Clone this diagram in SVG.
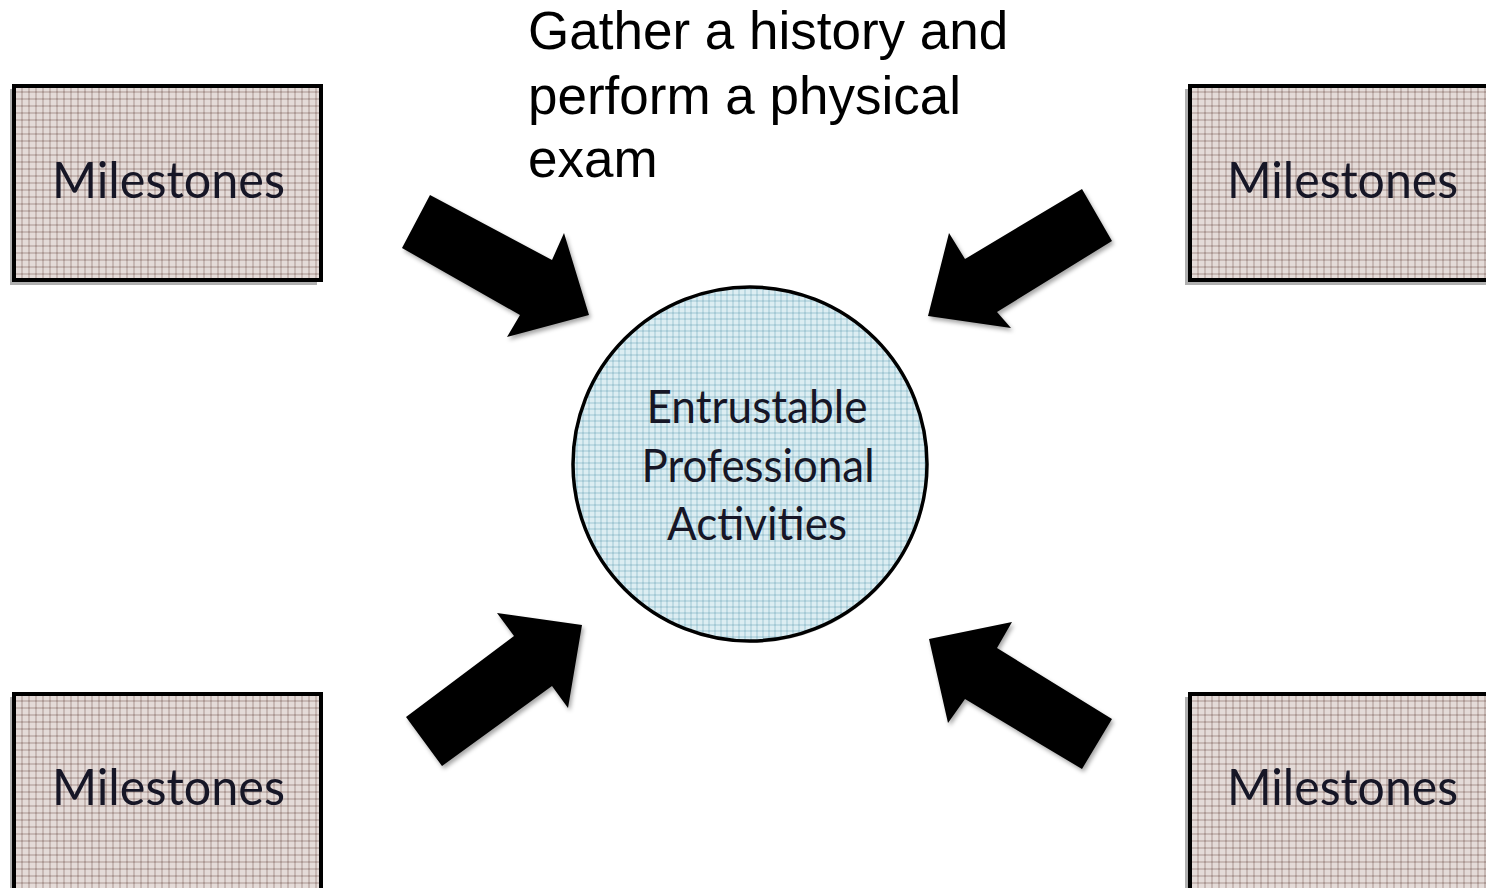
<svg xmlns="http://www.w3.org/2000/svg" width="1486" height="888" viewBox="0 0 1486 888">
<defs>
<pattern id="pink" width="7" height="7" patternUnits="userSpaceOnUse">
<rect width="7" height="7" fill="#e4dbd8"/>
<rect x="0" y="0" width="7" height="2" fill="#c7b8b4"/>
<rect x="0" y="0" width="2" height="7" fill="#c7b8b4"/>
<rect x="0" y="0" width="2" height="2" fill="#ad9a95"/>
</pattern>
<pattern id="blue" width="6" height="6" patternUnits="userSpaceOnUse">
<rect width="6" height="6" fill="#dcedf2"/>
<rect x="0" y="0" width="6" height="2" fill="#bddae3"/>
<rect x="0" y="0" width="2" height="6" fill="#bddae3"/>
<rect x="0" y="0" width="2" height="2" fill="#a5c9d5"/>
</pattern>
<filter id="shadow" x="-20%" y="-20%" width="140%" height="140%">
<feDropShadow dx="2" dy="3" stdDeviation="2" flood-color="#000" flood-opacity="0.35"/>
</filter>
</defs>
<style>
.box{fill:url(#pink);stroke:#000;stroke-width:4}
.boxsh{fill:#b0b0b0}
.ms{font-family:Lato,"Open Sans",sans-serif;font-size:50px;fill:#161626}
.epa{font-family:Lato,"Open Sans",sans-serif;font-size:46px;fill:#161626;text-anchor:middle}
.title{font-family:"Liberation Sans",Arial,sans-serif;font-size:53px;fill:#000}
.arrow{fill:#000;filter:url(#shadow)}
</style>
<rect width="1486" height="888" fill="#fff"/>

<g id="title">
<text class="title" x="528" y="49">Gather a history and</text>
<text class="title" x="528" y="114">perform a physical</text>
<text class="title" x="528" y="177">exam</text>
</g>

<g id="milestones-tl">
<rect class="boxsh" x="10" y="89" width="307" height="196"/>
<rect class="box" x="14" y="86" width="307" height="194"/>
<text class="ms" x="52" y="198" textLength="233" lengthAdjust="spacingAndGlyphs">Milestones</text>
</g>
<g id="milestones-tr">
<rect class="boxsh" x="1185" y="89" width="320" height="196"/>
<rect class="box" x="1190" y="86" width="320" height="194"/>
<text class="ms" x="1227" y="198" textLength="231" lengthAdjust="spacingAndGlyphs">Milestones</text>
</g>
<g id="milestones-bl">
<rect class="boxsh" x="10" y="697" width="307" height="200"/>
<rect class="box" x="14" y="694" width="307" height="200"/>
<text class="ms" x="52" y="805" textLength="233" lengthAdjust="spacingAndGlyphs">Milestones</text>
</g>
<g id="milestones-br">
<rect class="boxsh" x="1185" y="697" width="320" height="200"/>
<rect class="box" x="1190" y="694" width="320" height="200"/>
<text class="ms" x="1227" y="805" textLength="231" lengthAdjust="spacingAndGlyphs">Milestones</text>
</g>

<g id="epa">
<circle cx="751" cy="466" r="177" fill="#bbb" opacity="0.6"/>
<circle cx="750" cy="464" r="177" fill="url(#blue)" stroke="#000" stroke-width="3.5"/>
<text class="epa" x="757" y="423" textLength="221" lengthAdjust="spacingAndGlyphs">Entrustable</text>
<text class="epa" x="758" y="482" textLength="233" lengthAdjust="spacingAndGlyphs">Professional</text>
<text class="epa" x="757" y="540" textLength="180" lengthAdjust="spacingAndGlyphs">Activities</text>
</g>

<g id="connectors">
<polygon class="arrow" points="430,195 552,260 564,233 589,315 507,337 520,315 402,248"/>
<polygon class="arrow" points="1082,189 1112,241 997,312 1011,328 928,316 949,233 965,259"/>
<polygon class="arrow" points="406,717 442,766 552,686 568,708 582,625 497,613 514,636"/>
<polygon class="arrow" points="1112,719 1082,769 965,699 948,723 929,639 1012,622 997,648"/>
</g>
</svg>
